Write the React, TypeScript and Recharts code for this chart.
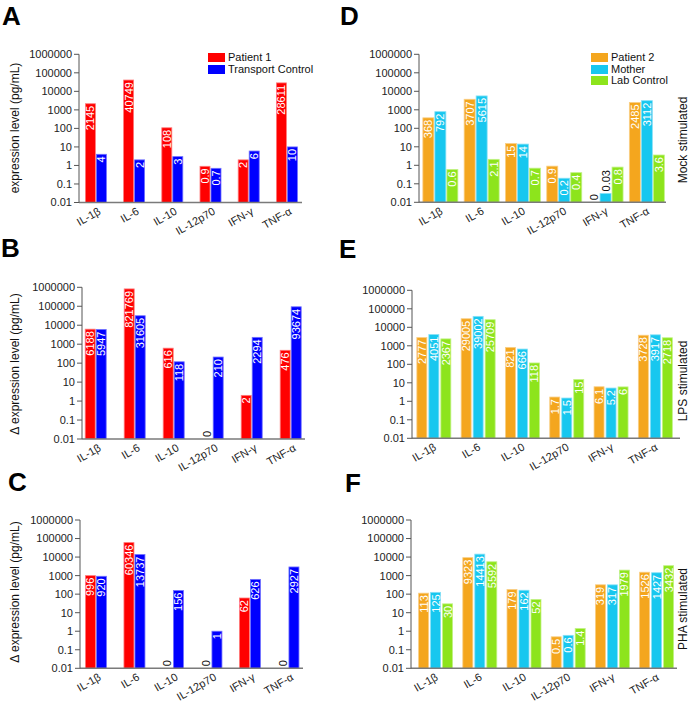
import React from "react";
import { BarChart, Bar, XAxis, YAxis, Legend } from "recharts";

const FONT = "'Liberation Sans', Arial, Helvetica, sans-serif";

const cytokines = ["IL-1β", "IL-6", "IL-10", "IL-12p70", "IFN-γ", "TNF-α"];
const logTicks = [0.01, 0.1, 1, 10, 100, 1000, 10000, 100000, 1000000];
const logTickLabels = ["0.01", "0.1", "1", "10", "100", "1000", "10000", "100000", "1000000"];

// Patient 1 vs transport control (A: mock, B: LPS delta, C: PHA delta)
const patient1Mock = [2145, 40749, 108, 0.9, 2, 28611];
const transportMock = [4, 2, 3, 0.7, 6, 10];
const patient1LPS = [6188, 821769, 616, 0, 2, 476];
const transportLPS = [5947, 31605, 118, 210, 2294, 93674];
const patient1PHA = [996, 60346, 0, 0, 62, 0];
const transportPHA = [920, 13737, 156, 1, 626, 2927];

// Patient 2, mother and lab control (D: mock, E: LPS, F: PHA)
const patient2Mock = [368, 3707, 15, 0.9, 0, 2485];
const motherMock = [792, 5615, 14, 0.2, 0.03, 3112];
const labMock = [0.6, 2.1, 0.7, 0.4, 0.8, 3.6];
const patient2LPS = [2777, 29005, 821, 1.7, 6.1, 3728];
const motherLPS = [4051, 39002, 666, 1.5, 5.2, 3917];
const labLPS = [2367, 25709, 118, 15, 6, 2718];
const patient2PHA = [113, 9323, 179, 0.5, 319, 1526];
const motherPHA = [125, 14413, 162, 0.6, 317, 1427];
const labPHA = [30, 5592, 52, 1.4, 1979, 3432];

// values of 0 can't go on a log axis, so their bars sit on the floor
const AXIS_FLOOR = 0.01;

const RED = { fill: "#ff0000", edge: "#ff7a7a" };
const BLUE = { fill: "#0000ff", edge: "#7070ff" };
const ORANGE = { fill: "#f4a61e", edge: "#f9cf86" };
const CYAN = { fill: "#17c7ef", edge: "#86e0f6" };
const GREEN = { fill: "#8de41c", edge: "#c2f287" };

type SeriesDef = { key: string; name: string; color: { fill: string; edge: string }; values: number[] };

type Panel = {
  id: string;
  box: [number, number, number, number]; // left, top, width, height
  plot: [number, number, number, number]; // left, top, right, bottom
  band: [number, number]; // first category start, category width
  barSize: number;
  barGap: number;
  tickShift: number;
  series: SeriesDef[];
  legendAt?: [number, number];
};

const pairSeries = (a: number[], b: number[]): SeriesDef[] => [
  { key: "patient", name: "Patient 1", color: RED, values: a },
  { key: "control", name: "Transport Control", color: BLUE, values: b },
];
const trioSeries = (a: number[], b: number[], c: number[]): SeriesDef[] => [
  { key: "patient", name: "Patient 2", color: ORANGE, values: a },
  { key: "mother", name: "Mother", color: CYAN, values: b },
  { key: "lab", name: "Lab Control", color: GREEN, values: c },
];

const panels: Panel[] = [
  { id: "A", box: [0, 0, 345, 246], plot: [79, 54.3, 302, 202.5], band: [76.4, 38.2], barSize: 10, barGap: 1, tickShift: 6, series: pairSeries(patient1Mock, transportMock), legendAt: [208, 52] },
  { id: "B", box: [0, 232, 345, 246], plot: [82, 287.3, 305, 439], band: [76.2, 39], barSize: 10, barGap: 1, tickShift: 6, series: pairSeries(patient1LPS, transportLPS) },
  { id: "C", box: [0, 464, 345, 238], plot: [80, 520, 303, 668.3], band: [76.45, 38.5], barSize: 10, barGap: 1, tickShift: 6, series: pairSeries(patient1PHA, transportPHA) },
  { id: "D", box: [345, 0, 344, 246], plot: [419, 54.3, 666, 202.3], band: [419.85, 41.3], barSize: 11, barGap: 1, tickShift: 3, series: trioSeries(patient2Mock, motherMock, labMock), legendAt: [591, 52] },
  { id: "E", box: [345, 232, 344, 246], plot: [412, 290.3, 680, 438.3], band: [411.85, 44.3], barSize: 10, barGap: 2, tickShift: 3, series: trioSeries(patient2LPS, motherLPS, labLPS) },
  { id: "F", box: [345, 464, 344, 238], plot: [411, 520, 677, 668.3], band: [413.6, 44.2], barSize: 10, barGap: 2, tickShift: 3, series: trioSeries(patient2PHA, motherPHA, labPHA) },
];

const panelLetters = [
  { text: "A", x: 2, y: 25 },
  { text: "B", x: 1, y: 257 },
  { text: "C", x: 8, y: 491 },
  { text: "D", x: 340, y: 25 },
  { text: "E", x: 339, y: 258 },
  { text: "F", x: 345, y: 492 },
];
const yTitles = [
  { text: "expression level (pg/mL)", x: 15, y: 128 },
  { text: "Δ expression level (pg/mL)", x: 15, y: 364 },
  { text: "Δ expression level (pg/mL)", x: 15, y: 592 },
];
const sideTitles = [
  { text: "Mock stimulated", x: 683, y: 140 },
  { text: "LPS stimulated", x: 683, y: 381 },
  { text: "PHA stimulated", x: 683, y: 609 },
];

function buildRows(series: SeriesDef[]) {
  return cytokines.map((name, i) => {
    const row: Record<string, string | number> = { name };
    series.forEach((s) => {
      const v = s.values[i];
      row[s.key] = v > 0 ? v : AXIS_FLOOR;
      row[s.key + "Label"] = v;
    });
    return row;
  });
}

function textWidth(s: string, size: number) {
  let w = 0;
  for (const ch of s) w += ch === "." ? 0.278 : 0.556;
  return w * size;
}

// value written up the bar in white, or above it in black when it doesn't fit
function ValueLabel({ x, y, width, height, value }: { x: number; y: number; width: number; height: number; value: number }) {
  const text = String(value);
  const cx = x + width / 2;
  const inside = height >= textWidth(text, 11) + 5;
  const ay = inside ? y + 2 : y - 2;
  return (
    <text
      x={cx}
      y={ay}
      transform={`rotate(-90 ${cx} ${ay})`}
      textAnchor={inside ? "end" : "start"}
      dominantBaseline="central"
      fontSize={11}
      fontFamily={FONT}
      fill={inside ? "#ffffff" : "#111111"}
    >
      {text}
    </text>
  );
}

function LabelledBar(props: any, labelKey: string) {
  const x = Number(props.x);
  const y = Number(props.y);
  const width = Number(props.width);
  const height = Number(props.height) || 0;
  if (!isFinite(x) || !isFinite(y)) return <g />;
  const value = props.payload ? props.payload[labelKey] : props[labelKey];
  return (
    <g>
      {height > 0 && (
        <rect x={x} y={y} width={width} height={height} fill={props.fill} stroke={props.stroke} strokeWidth={props.strokeWidth} />
      )}
      <ValueLabel x={x} y={y} width={width} height={height} value={value} />
    </g>
  );
}

function CategoryTick(props: any) {
  const { x, y, payload, shift } = props;
  const tx = x + shift;
  const ty = y + 11;
  return (
    <text
      x={tx}
      y={ty}
      transform={`rotate(-30 ${tx} ${ty})`}
      textAnchor="end"
      fontSize={11}
      fontFamily={FONT}
      fill="#222"
    >
      {payload.value}
    </text>
  );
}

function SwatchLegend({ series }: { series: SeriesDef[] }) {
  return (
    <div style={{ fontFamily: FONT, fontSize: 11, color: "#111", lineHeight: "11.6px" }}>
      {series.map((s) => (
        <div key={s.key} style={{ display: "flex", alignItems: "center", height: 11.6, whiteSpace: "nowrap" }}>
          <span style={{ display: "inline-block", width: 17, height: 9, background: s.color.fill, marginRight: 3 }} />
          {s.name}
        </div>
      ))}
    </div>
  );
}

function CytokinePanel({ panel }: { panel: Panel }) {
  const [bl, bt, bw, bh] = panel.box;
  const [pl, pt, pr, pb] = panel.plot;
  const [bandStart, bandWidth] = panel.band;
  const rows = buildRows(panel.series);
  const padLeft = bandStart - pl;
  const padRight = pr - (bandStart + bandWidth * cytokines.length);
  return (
    <div style={{ position: "absolute", left: bl, top: bt, width: bw, height: bh }}>
      <BarChart
        width={bw}
        height={bh}
        data={rows}
        margin={{ top: pt - bt, right: bl + bw - pr, bottom: 0, left: 0 }}
        barSize={panel.barSize}
        barGap={panel.barGap}
      >
        <XAxis
          dataKey="name"
          type="category"
          interval={0}
          height={bt + bh - pb}
          padding={{ left: padLeft, right: padRight }}
          tickLine={false}
          tickSize={0}
          tickMargin={0}
          axisLine={{ stroke: "#7a7a7a", strokeWidth: 1.5 }}
          tick={(p: any) => <CategoryTick {...p} shift={panel.tickShift} />}
        />
        <YAxis
          type="number"
          scale="log"
          domain={[AXIS_FLOOR, 1000000]}
          ticks={logTicks}
          interval={0}
          allowDataOverflow
          width={pl - bl}
          tickSize={5}
          tickMargin={2}
          axisLine={{ stroke: "#555" }}
          tickLine={{ stroke: "#555" }}
          tick={{ fontSize: 11, fill: "#222", fontFamily: FONT }}
          tickFormatter={(v: number) => logTickLabels[logTicks.indexOf(v)] ?? String(v)}
        />
        {panel.legendAt && (
          <Legend
            layout="vertical"
            align="center"
            verticalAlign="middle"
            content={() => <SwatchLegend series={panel.series} />}
            wrapperStyle={{ position: "absolute", left: panel.legendAt[0] - bl, top: panel.legendAt[1] - bt, width: "auto" }}
          />
        )}
        {panel.series.map((s) => (
          <Bar
            key={s.key}
            dataKey={s.key}
            name={s.name}
            fill={s.color.fill}
            stroke={s.color.edge}
            strokeWidth={0.8}
            isAnimationActive={false}
            shape={(p: any) => LabelledBar(p, s.key + "Label")}
          />
        ))}
      </BarChart>
    </div>
  );
}

export default function App() {
  return (
    <div style={{ position: "absolute", left: 0, top: 0, width: 689, height: 702, background: "#fff", fontFamily: FONT }}>
      {panels.map((p) => (
        <CytokinePanel key={p.id} panel={p} />
      ))}
      <svg width={689} height={702} style={{ position: "absolute", left: 0, top: 0, pointerEvents: "none" }}>
        {panelLetters.map((l) => (
          <text key={l.text} x={l.x} y={l.y} fontSize={26} fontWeight="bold" fontFamily={FONT} fill="#000">
            {l.text}
          </text>
        ))}
        {yTitles.map((t, i) => (
          <text
            key={i}
            x={t.x}
            y={t.y}
            transform={`rotate(-90 ${t.x} ${t.y})`}
            textAnchor="middle"
            dominantBaseline="central"
            fontSize={12}
            fontFamily={FONT}
            fill="#111"
          >
            {t.text}
          </text>
        ))}
        {sideTitles.map((t) => (
          <text
            key={t.text}
            x={t.x}
            y={t.y}
            transform={`rotate(-90 ${t.x} ${t.y})`}
            textAnchor="middle"
            dominantBaseline="central"
            fontSize={12}
            fontFamily={FONT}
            fill="#111"
          >
            {t.text}
          </text>
        ))}
      </svg>
    </div>
  );
}
